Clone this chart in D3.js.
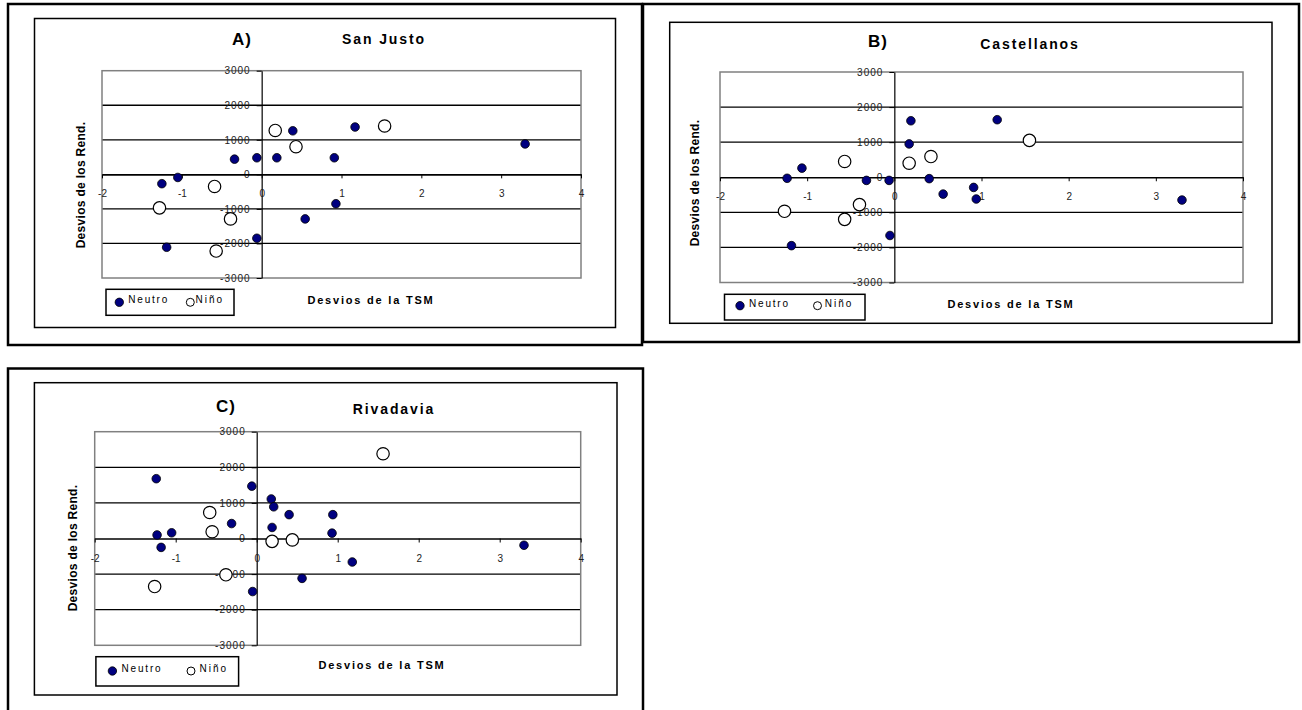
<!DOCTYPE html>
<html><head><meta charset="utf-8">
<script src="https://cdn.jsdelivr.net/npm/d3@7"></script>
<style>
body{margin:0;background:#fff}
svg{display:block}
text{font-family:Arial,"Liberation Sans",sans-serif}
</style>
</head><body>
<svg id="c" width="1302" height="710"></svg>
<script>
// ---------- DATA ----------
const xTicks = [-2, -1, 0, 1, 2, 3, 4];
const yTicks = [-3000, -2000, -1000, 0, 1000, 2000, 3000];
const panelLetters = ["A)", "B)", "C)"];
const stations = ["San Justo", "Castellanos", "Rivadavia"];
const seriesNames = ["Neutro", "Niño"];
const xAxisTitle = "Desvios de la TSM";
const yAxisTitle = "Desvios de los Rend.";

// [SST anomaly, yield anomaly]
const sanJustoNeutro = [[-1.25,-270],[-1.05,-90],[-0.34,440],[-0.06,480],[0.19,480],[0.39,1260],[1.17,1370],[0.91,480],[0.93,-850],[0.545,-1290],[-0.06,-1850],[-1.19,-2110],[3.30,880]];
const sanJustoNino = [[0.17,1270],[0.43,800],[1.54,1400],[-0.59,-350],[-1.28,-970],[-0.39,-1290],[-0.57,-2220]];

const castellanosNeutro = [[-1.23,-30],[-1.06,260],[-0.32,-90],[-0.06,-90],[0.19,1610],[0.17,950],[0.40,-40],[0.56,-480],[0.91,-290],[0.94,-620],[-0.05,-1660],[-1.18,-1950],[1.18,1640],[3.30,-650]];
const castellanosNino = [[-0.57,450],[0.17,400],[0.42,590],[1.55,1050],[-0.40,-780],[-0.57,-1200],[-1.26,-970]];

const rivadaviaNeutro = [[-1.24,1680],[-1.23,100],[-1.05,160],[-1.18,-250],[-0.31,420],[-0.06,1470],[0.18,1110],[0.21,890],[0.19,310],[0.40,670],[0.94,670],[0.93,150],[1.18,-660],[0.56,-1120],[-0.05,-1490],[3.30,-190]];
const rivadaviaNino = [[-0.58,730],[-0.55,190],[0.19,-80],[0.44,-40],[-0.38,-1020],[-1.26,-1350],[1.56,2380]];

// ---------- LAYOUT ----------
const layouts = [
  {outer:[8,4,634,341], inner:[34.5,18.5,581,309], plot:[102,70.7,479,207.3],
   letter:[242,45], title:[384,44.3], ylab:[80.5,185], xlab:[371,304],
   legend:[106,289.3,128,26], legDotY:302.3, legDotX:119.3, legNeutroX:128.3, legNinoX:190.3, legNinoTextX:195.5},
  {outer:[643,4,656,338], inner:[669.7,22.3,602.3,301], plot:[720,72,523,210.5],
   letter:[878,47], title:[1030,49], ylab:[695,183], xlab:[1011,308],
   legend:[724.5,294.3,140.5,25.7], legDotY:305.7, legDotX:740, legNeutroX:749, legNinoX:817.5, legNinoTextX:824.7},
  {outer:[8,368.5,635,346], inner:[34.4,382.7,582.6,312.3], plot:[94.7,431.7,486,213.6],
   letter:[226,411.5], title:[394,414], ylab:[72.6,548], xlab:[382,669],
   legend:[95.9,656.7,142.7,29.3], legDotY:671, legDotX:112.4, legNeutroX:121.6, legNinoX:191, legNinoTextX:199.6}
];

const svg = d3.select("#c");
const NAVY = "#000080";
const fmt = d => String(d);

function drawPanel(L, letter, title, neutro, nino) {
  const g = svg.append("g");
  const [px, py, pw, ph] = L.plot;

  g.append("rect").attr("x", L.outer[0]).attr("y", L.outer[1]).attr("width", L.outer[2]).attr("height", L.outer[3])
    .attr("fill", "none").attr("stroke", "#000").attr("stroke-width", 2.5);
  g.append("rect").attr("x", L.inner[0]).attr("y", L.inner[1]).attr("width", L.inner[2]).attr("height", L.inner[3])
    .attr("fill", "#fff").attr("stroke", "#000").attr("stroke-width", 1.5);

  const x = d3.scaleLinear().domain([-2, 4]).range([px, px + pw]);
  const y = d3.scaleLinear().domain([-3000, 3000]).range([py + ph, py]);

  // gridlines
  g.selectAll(".grid").data(yTicks.filter(v => Math.abs(v) !== 3000 && v !== 0)).join("line")
    .attr("x1", px).attr("x2", px + pw).attr("y1", d => y(d)).attr("y2", d => y(d))
    .attr("stroke", "#000").attr("stroke-width", 1.3);

  // plot border
  g.append("rect").attr("x", px).attr("y", py).attr("width", pw).attr("height", ph)
    .attr("fill", "none").attr("stroke", "#808080").attr("stroke-width", 1.5);

  // y axis at x = 0
  const ya = g.append("g").attr("transform", `translate(${x(0)},0)`)
    .call(d3.axisLeft(y).tickValues(yTicks).tickSize(5).tickSizeOuter(0).tickPadding(6).tickFormat(fmt));
  ya.select(".domain").attr("stroke", "#000").attr("stroke-width", 1.2);
  ya.selectAll(".tick line").attr("stroke", "#000").attr("stroke-width", 1);
  ya.selectAll("text").attr("font-size", 10).attr("letter-spacing", 1).attr("fill", "#222")
    .attr("font-family", "Arial, 'Liberation Sans', sans-serif");

  // x axis at y = 0
  const xa = g.append("g").attr("transform", `translate(0,${y(0)})`)
    .call(d3.axisBottom(x).tickValues(xTicks).tickSize(4).tickSizeOuter(0).tickPadding(12).tickFormat(fmt));
  xa.select(".domain").attr("stroke", "#000").attr("stroke-width", 1.6);
  xa.selectAll(".tick line").attr("stroke", "#000").attr("stroke-width", 1);
  xa.selectAll("text").attr("font-size", 10).attr("fill", "#222")
    .attr("font-family", "Arial, 'Liberation Sans', sans-serif");

  // points
  g.selectAll(".neutro").data(neutro).join("circle")
    .attr("cx", d => x(d[0])).attr("cy", d => y(d[1])).attr("r", 4.3)
    .attr("fill", NAVY).attr("stroke", "#000").attr("stroke-width", 0.8);
  g.selectAll(".nino").data(nino).join("circle")
    .attr("cx", d => x(d[0])).attr("cy", d => y(d[1])).attr("r", 6.2)
    .attr("fill", "#fff").attr("stroke", "#000").attr("stroke-width", 1.2);

  // titles
  g.append("text").attr("x", L.letter[0]).attr("y", L.letter[1]).attr("text-anchor", "middle")
    .attr("font-size", 17).attr("font-weight", "bold").attr("letter-spacing", 1).text(letter);
  g.append("text").attr("x", L.title[0]).attr("y", L.title[1]).attr("text-anchor", "middle")
    .attr("font-size", 14).attr("font-weight", "bold").attr("letter-spacing", 1.9).text(title);
  g.append("text").attr("transform", `translate(${L.ylab[0]},${L.ylab[1]}) rotate(-90)`)
    .attr("text-anchor", "middle").attr("dominant-baseline", "central")
    .attr("font-size", 12).attr("font-weight", "bold").attr("letter-spacing", 0.3).text(yAxisTitle);
  g.append("text").attr("x", L.xlab[0]).attr("y", L.xlab[1]).attr("text-anchor", "middle")
    .attr("font-size", 11).attr("font-weight", "bold").attr("letter-spacing", 1.8).text(xAxisTitle);

  // legend
  const [lx, ly, lw, lh] = L.legend;
  g.append("rect").attr("x", lx).attr("y", ly).attr("width", lw).attr("height", lh)
    .attr("fill", "#fff").attr("stroke", "#000").attr("stroke-width", 1.5);
  g.append("circle").attr("cx", L.legDotX).attr("cy", L.legDotY).attr("r", 4.2)
    .attr("fill", NAVY).attr("stroke", "#000").attr("stroke-width", 0.8);
  g.append("text").attr("x", L.legNeutroX).attr("y", L.legDotY + 1).attr("font-size", 10)
    .attr("letter-spacing", 1.8).text(seriesNames[0]);
  g.append("circle").attr("cx", L.legNinoX).attr("cy", L.legDotY).attr("r", 4)
    .attr("fill", "#fff").attr("stroke", "#000").attr("stroke-width", 1);
  g.append("text").attr("x", L.legNinoTextX).attr("y", L.legDotY + 1).attr("font-size", 10)
    .attr("letter-spacing", 2).text(seriesNames[1]);
}

drawPanel(layouts[0], panelLetters[0], stations[0], sanJustoNeutro, sanJustoNino);
drawPanel(layouts[1], panelLetters[1], stations[1], castellanosNeutro, castellanosNino);
drawPanel(layouts[2], panelLetters[2], stations[2], rivadaviaNeutro, rivadaviaNino);
</script>
</body></html>
